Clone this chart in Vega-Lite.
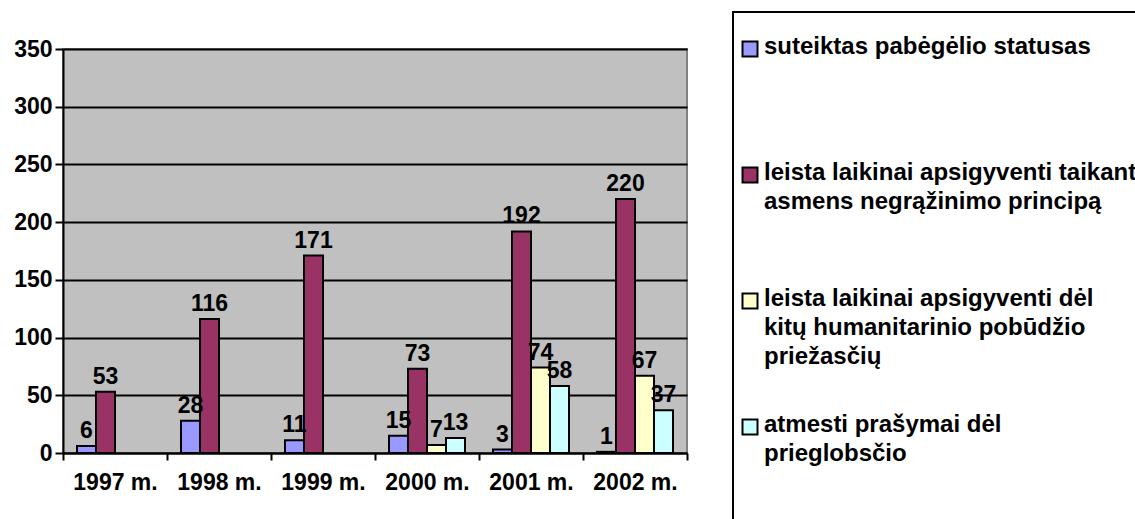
{
  "$schema": "https://vega.github.io/schema/vega-lite/v6.json",
  "width": 624,
  "height": 404,
  "autosize": {"type": "none"},
  "padding": {"left": 63, "top": 49, "right": 448, "bottom": 66},
  "background": "white",
  "config": {
    "font": "Liberation Sans",
    "view": {"fill": "#C0C0C0", "stroke": "#808080", "strokeWidth": 2},
    "axis": {
      "labelFont": "Liberation Sans",
      "labelFontSize": 23,
      "labelFontWeight": "bold",
      "labelColor": "black",
      "domainColor": "black",
      "domainWidth": 2,
      "tickColor": "black",
      "tickWidth": 2,
      "title": null
    },
    "legend": {
      "orient": "none",
      "legendX": 670,
      "legendY": -37,
      "titleFontSize": 15,
      "titlePadding": 0,
      "padding": 10,
      "strokeColor": "black",
      "fillColor": "white",
      "symbolType": "square",
      "symbolSize": 225,
      "symbolStrokeColor": "black",
      "symbolStrokeWidth": 2,
      "symbolOffset": -5,
      "labelFont": "Liberation Sans",
      "labelFontSize": 24,
      "labelFontWeight": "bold",
      "labelColor": "black",
      "labelLimit": 1000,
      "labelOffset": 2,
      "labelBaseline": "top",
      "rowPadding": 14
    }
  },
  "data": {
    "values": [
      {"year": "1997 m.", "series": "suteiktas pabėgėlio statusas", "value": 6},
      {"year": "1997 m.", "series": "leista laikinai apsigyventi taikant asmens negrąžinimo principą", "value": 53},
      {"year": "1998 m.", "series": "suteiktas pabėgėlio statusas", "value": 28},
      {"year": "1998 m.", "series": "leista laikinai apsigyventi taikant asmens negrąžinimo principą", "value": 116},
      {"year": "1999 m.", "series": "suteiktas pabėgėlio statusas", "value": 11},
      {"year": "1999 m.", "series": "leista laikinai apsigyventi taikant asmens negrąžinimo principą", "value": 171},
      {"year": "2000 m.", "series": "suteiktas pabėgėlio statusas", "value": 15},
      {"year": "2000 m.", "series": "leista laikinai apsigyventi taikant asmens negrąžinimo principą", "value": 73},
      {"year": "2000 m.", "series": "leista laikinai apsigyventi dėl kitų humanitarinio pobūdžio priežasčių", "value": 7},
      {"year": "2000 m.", "series": "atmesti prašymai dėl prieglobsčio", "value": 13},
      {"year": "2001 m.", "series": "suteiktas pabėgėlio statusas", "value": 3},
      {"year": "2001 m.", "series": "leista laikinai apsigyventi taikant asmens negrąžinimo principą", "value": 192},
      {"year": "2001 m.", "series": "leista laikinai apsigyventi dėl kitų humanitarinio pobūdžio priežasčių", "value": 74},
      {"year": "2001 m.", "series": "atmesti prašymai dėl prieglobsčio", "value": 58},
      {"year": "2002 m.", "series": "suteiktas pabėgėlio statusas", "value": 1},
      {"year": "2002 m.", "series": "leista laikinai apsigyventi taikant asmens negrąžinimo principą", "value": 220},
      {"year": "2002 m.", "series": "leista laikinai apsigyventi dėl kitų humanitarinio pobūdžio priežasčių", "value": 67},
      {"year": "2002 m.", "series": "atmesti prašymai dėl prieglobsčio", "value": 37}
    ]
  },
  "encoding": {
    "x": {
      "field": "year",
      "type": "nominal",
      "scale": {"paddingInner": 0, "paddingOuter": 0},
      "axis": {"labelAngle": 0, "tickBand": "extent", "tickSize": 7, "labelPadding": 11, "grid": false}
    },
    "xOffset": {
      "field": "series",
      "type": "nominal",
      "scale": {
        "domain": [
          "suteiktas pabėgėlio statusas",
          "leista laikinai apsigyventi taikant asmens negrąžinimo principą",
          "leista laikinai apsigyventi dėl kitų humanitarinio pobūdžio priežasčių",
          "atmesti prašymai dėl prieglobsčio"
        ],
        "paddingInner": 0,
        "paddingOuter": 0.737
      }
    },
    "y": {
      "field": "value",
      "type": "quantitative",
      "scale": {"domain": [0, 350], "nice": false},
      "axis": {
        "values": [0, 50, 100, 150, 200, 250, 300, 350],
        "tickSize": 8,
        "labelPadding": 3,
        "grid": true,
        "gridColor": "black",
        "gridWidth": 2,
        "gridOpacity": 1
      }
    }
  },
  "layer": [
    {
      "mark": {"type": "bar", "stroke": "black", "strokeWidth": 2},
      "encoding": {
        "color": {
          "field": "series",
          "type": "nominal",
          "scale": {
            "domain": [
              "suteiktas pabėgėlio statusas",
              "leista laikinai apsigyventi taikant asmens negrąžinimo principą",
              "leista laikinai apsigyventi dėl kitų humanitarinio pobūdžio priežasčių",
              "atmesti prašymai dėl prieglobsčio"
            ],
            "range": ["#9999FF", "#993366", "#FFFFCC", "#CCFFFF"]
          },
          "legend": {
            "title": "\u00a0",
            "labelExpr": "datum.label == 'suteiktas pabėgėlio statusas' ? ['suteiktas pabėgėlio statusas', '', '', ''] : datum.label == 'leista laikinai apsigyventi taikant asmens negrąžinimo principą' ? ['leista laikinai apsigyventi taikant', 'asmens negrąžinimo principą', '', ''] : datum.label == 'leista laikinai apsigyventi dėl kitų humanitarinio pobūdžio priežasčių' ? ['leista laikinai apsigyventi dėl', 'kitų humanitarinio pobūdžio', 'priežasčių', ''] : ['atmesti prašymai dėl', 'prieglobsčio', '', '']",
            "encode": {
              "labels": {"update": {"dy": {"value": -14.5}, "lineHeight": {"value": 29}}},
              "symbols": {"update": {"stroke": {"value": "black"}, "strokeWidth": {"value": 2}}},
              "legend": {"update": {"strokeWidth": {"value": 2}}}
            }
          }
        }
      }
    },
    {
      "mark": {"type": "text", "baseline": "alphabetic", "dy": -8, "fontSize": 23, "fontWeight": "bold", "color": "black", "font": "Liberation Sans"},
      "encoding": {"text": {"field": "value", "type": "quantitative"}}
    }
  ]
}
